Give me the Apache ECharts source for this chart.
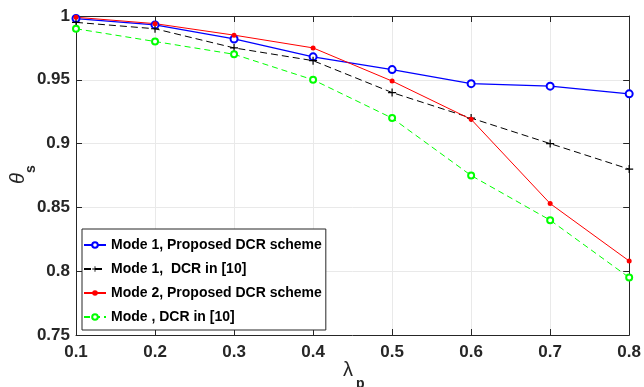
<!DOCTYPE html>
<html>
<head>
<meta charset="utf-8">
<script src="https://cdn.jsdelivr.net/npm/echarts@6/dist/echarts.min.js"></script>
<style>
  html, body { margin: 0; padding: 0; background: #fff; }
  #chart { width: 644px; height: 387px; }
</style>
</head>
<body>
<div id="chart"></div>
<script>
// Secrecy probability θs against λp for the two modes
const lambdaP = [0.1, 0.2, 0.3, 0.4, 0.5, 0.6, 0.7, 0.8];
const mode1Proposed = [0.998, 0.993, 0.982, 0.968, 0.958, 0.947, 0.945, 0.939];
const mode1Ref      = [0.995, 0.990, 0.975, 0.965, 0.940, 0.920, 0.900, 0.880];
const mode2Proposed = [0.999, 0.994, 0.985, 0.975, 0.949, 0.919, 0.853, 0.808];
const modeRef       = [0.990, 0.980, 0.970, 0.950, 0.920, 0.875, 0.840, 0.795];
const seriesNames = [
  'Mode 1, Proposed DCR scheme',
  'Mode 1,  DCR in [10]',
  'Mode 2, Proposed DCR scheme',
  'Mode , DCR in [10]'
];
const yTicks = { min: 0.75, max: 1, step: 0.05 };
const xTicks = { min: 0.1, max: 0.8, step: 0.1 };

const FONT = '"Liberation Sans", Arial, Helvetica, sans-serif';
const AX = '#262626';
const pairs = ys => lambdaP.map((x, i) => [x, ys[i]]);

// thin plus sign used as the marker of the black curve
const plusPath = 'path://M-0.15,-1L0.15,-1L0.15,-0.15L1,-0.15L1,0.15L0.15,0.15L0.15,1L-0.15,1L-0.15,0.15L-1,0.15L-1,-0.15L-0.15,-0.15Z';

const chart = echarts.init(document.getElementById('chart'), null, { renderer: 'canvas' });

const tickStyle = { inside: true, length: 6, lineStyle: { color: AX, width: 1 } };
const lineAx = { show: true, lineStyle: { color: AX, width: 1 } };

chart.setOption({
  animation: false,
  backgroundColor: '#fff',
  grid: { left: 76, top: 16, right: 14, bottom: 52, containLabel: false },
  xAxis: [{
    type: 'value', min: xTicks.min, max: xTicks.max, interval: xTicks.step,
    axisLine: lineAx, axisTick: tickStyle,
    axisLabel: { color: AX, fontFamily: FONT, fontWeight: 'bold', fontSize: 17, margin: 9,
                 formatter: v => v.toFixed(1) },
    splitLine: { show: true, lineStyle: { color: '#e9e9e9', width: 1 } }
  }, {
    type: 'value', position: 'top', min: xTicks.min, max: xTicks.max, interval: xTicks.step,
    axisLine: lineAx, axisTick: tickStyle, axisLabel: { show: false }, splitLine: { show: false }
  }],
  yAxis: [{
    type: 'value', min: yTicks.min, max: yTicks.max, interval: yTicks.step,
    axisLine: lineAx, axisTick: tickStyle,
    axisLabel: { color: AX, fontFamily: FONT, fontWeight: 'bold', fontSize: 17, margin: 6 },
    splitLine: { show: true, lineStyle: { color: '#e9e9e9', width: 1 } }
  }, {
    type: 'value', position: 'right', min: yTicks.min, max: yTicks.max, interval: yTicks.step,
    axisLine: lineAx, axisTick: tickStyle, axisLabel: { show: false }, splitLine: { show: false }
  }],
  legend: {
    orient: 'vertical', left: 82, top: 229,
    padding: [8, 4, 5, 1], itemGap: 8, itemWidth: 22, itemHeight: 7,
    backgroundColor: '#fff', borderColor: AX, borderWidth: 1, borderRadius: 0,
    textStyle: { color: '#000', fontFamily: FONT, fontWeight: 'bold', fontSize: 14, lineHeight: 16 },
    data: seriesNames
  },
  series: [
    {
      name: seriesNames[0], type: 'line', data: pairs(mode1Proposed),
      symbol: 'emptyCircle', symbolSize: 7,
      lineStyle: { color: '#0000ff', width: 1.3 },
      itemStyle: { color: '#0000ff', borderColor: '#0000ff', borderWidth: 1.2 }
    },
    {
      name: seriesNames[1], type: 'line', data: pairs(mode1Ref),
      symbol: plusPath, symbolSize: 8,
      lineStyle: { color: '#000', width: 1, type: [7, 4] },
      itemStyle: { color: '#000' }
    },
    {
      name: seriesNames[2], type: 'line', data: pairs(mode2Proposed),
      symbol: 'circle', symbolSize: 5,
      lineStyle: { color: '#ff0000', width: 1 },
      itemStyle: { color: '#ff0000' }
    },
    {
      name: seriesNames[3], type: 'line', data: pairs(modeRef),
      symbol: 'emptyCircle', symbolSize: 6,
      lineStyle: { color: '#00ff00', width: 1, type: [6, 4] },
      itemStyle: { color: '#00ff00', borderColor: '#00ff00', borderWidth: 1 }
    }
  ],
  graphic: [
    {
      // y-axis title θs, read bottom to top
      type: 'group', x: 18, y: 184, rotation: Math.PI / 2,
      children: [
        { type: 'text', x: 0, y: 0,
          style: { text: 'θ', font: 'italic 20px ' + FONT, fill: AX, align: 'left', verticalAlign: 'middle' } },
        { type: 'text', x: 11, y: 13,
          style: { text: 's', font: 'bold 14px ' + FONT, fill: AX, align: 'left', verticalAlign: 'middle' } }
      ]
    },
    {
      // x-axis title λp
      type: 'group', x: 343, y: 370,
      children: [
        { type: 'text', x: 0, y: 0,
          style: { text: 'λ', font: '20px ' + FONT, fill: AX, align: 'left', verticalAlign: 'middle' } },
        { type: 'text', x: 13, y: 14,
          style: { text: 'p', font: 'bold 14px ' + FONT, fill: AX, align: 'left', verticalAlign: 'middle' } }
      ]
    }
  ]
});
</script>
</body>
</html>
